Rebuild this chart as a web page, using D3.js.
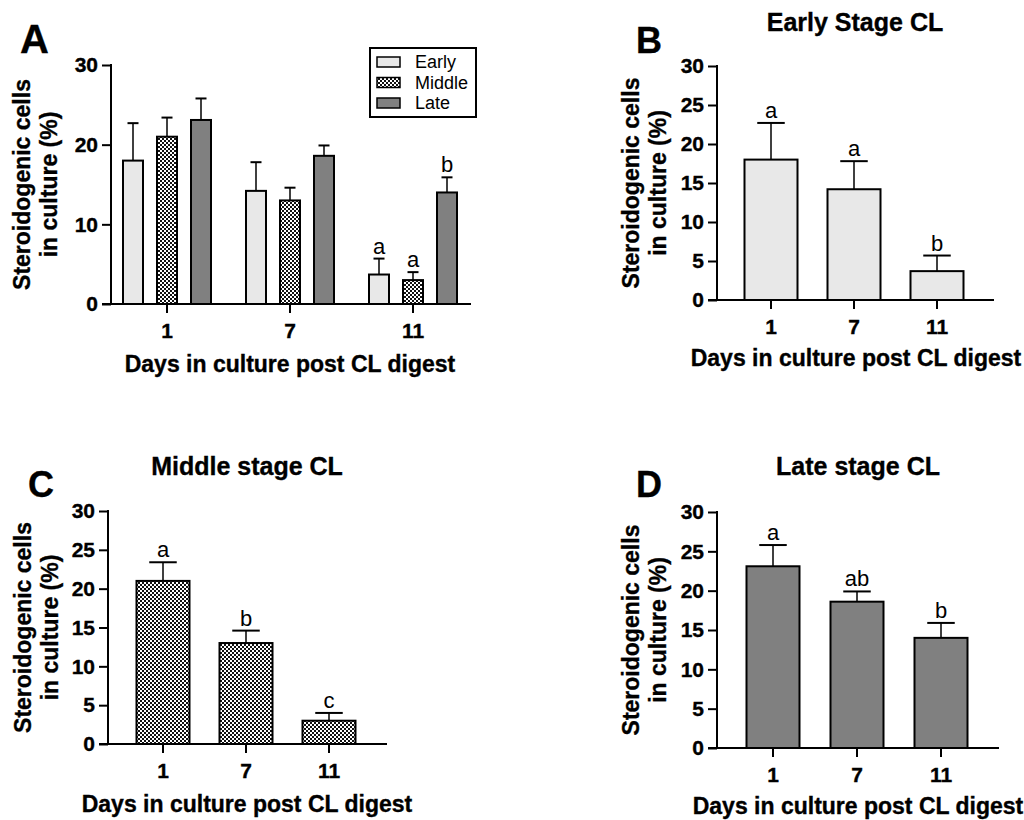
<!DOCTYPE html>
<html>
<head>
  <meta charset="utf-8">
  <title>Steroidogenic cells in culture</title>
  <style>
    body { margin: 0; background: #fff; }
    text { font-family: "Liberation Sans", Arial, sans-serif; }
  </style>
</head>
<body>
  <svg width="1024" height="820"></svg>
  <script src="https://d3js.org/d3.v7.min.js"></script>
  <script>

  // data (mean and SEM, %)
  var days = ["1", "7", "11"];
  var stages = ["Early", "Middle", "Late"];
  var earlyMean = [18.0, 14.2, 3.7];
  var earlyErr = [4.7, 3.6, 2.0];
  var middleMean = [21.0, 13.0, 3.0];
  var middleErr = [2.4, 1.6, 1.0];
  var lateMean = [23.1, 18.6, 14.0];
  var lateErr = [2.7, 1.3, 1.9];
  // significance letters
  var lettersA = [["", "", "a"], ["", "", "a"], ["", "", "b"]];
  var lettersB = ["a", "a", "b"];
  var lettersC = ["a", "b", "c"];
  var lettersD = ["a", "ab", "b"];
  var ticksA = [0, 10, 20, 30];
  var ticksBCD = [0, 5, 10, 15, 20, 25, 30];

  var svg = d3.select("svg");

  // patterns
  var defs = svg.append("defs");
  var pat = defs.append("pattern")
    .attr("id", "checker")
    .attr("patternUnits", "userSpaceOnUse")
    .attr("width", 4).attr("height", 4);
  pat.append("rect").attr("width", 4).attr("height", 4).attr("fill", "#fff");
  pat.append("rect").attr("width", 2).attr("height", 2).attr("fill", "#111");
  pat.append("rect").attr("x", 2).attr("y", 2).attr("width", 2).attr("height", 2).attr("fill", "#111");

  var fills = { Early: "#e8e8e8", Middle: "url(#checker)", Late: "#808080" };

  function seriesOf(stage) {
    if (stage == "Early") return { mean: earlyMean, err: earlyErr };
    if (stage == "Middle") return { mean: middleMean, err: middleErr };
    return { mean: lateMean, err: lateErr };
  }

  function boldText(sel, size) {
    sel.attr("font-size", size).attr("font-weight", "bold").attr("fill", "#000")
      .attr("stroke", "#000").attr("stroke-width", 0.35)
      .attr("font-family", "Liberation Sans, Arial, sans-serif");
  }

  // draws the axes frame of one panel, returns scales
  function panel(p) {
    var g = svg.append("g");
    var y = d3.scaleLinear().domain([0, 30]).range([p.y0, p.y1]);
    var x = d3.scaleBand().domain(days)
      .range([p.tick0 - p.step / 2, p.tick0 + p.step * 2.5]);

    // y axis
    var ya = g.append("g")
      .attr("transform", "translate(" + p.ax + ",0)")
      .call(d3.axisLeft(y).tickValues(p.ticks).tickSize(9).tickPadding(4));
    ya.select(".domain").remove();
    ya.selectAll(".tick line").attr("stroke", "#000").attr("stroke-width", 2);
    boldText(ya.selectAll(".tick text"), "21px");

    // x axis
    var xa = g.append("g")
      .attr("transform", "translate(0," + p.y0 + ")")
      .call(d3.axisBottom(x).tickSize(9).tickPadding(10));
    xa.select(".domain").remove();
    xa.selectAll(".tick line").attr("stroke", "#000").attr("stroke-width", 2);
    boldText(xa.selectAll(".tick text"), "21px");

    g.append("line")
      .attr("x1", p.ax).attr("x2", p.ax).attr("y1", p.y1 - 1).attr("y2", p.y0 + 1)
      .attr("stroke", "#000").attr("stroke-width", 2);
    g.append("line")
      .attr("x1", p.ax - 9).attr("x2", p.xEnd).attr("y1", p.y0).attr("y2", p.y0)
      .attr("stroke", "#000").attr("stroke-width", 2);

    // axis titles
    var cy = (p.y0 + p.y1) / 2;
    boldText(g.append("text")
      .attr("transform", "translate(" + p.yt1 + "," + cy + ") rotate(-90)")
      .attr("text-anchor", "middle")
      .text("Steroidogenic cells"), "23px");
    boldText(g.append("text")
      .attr("transform", "translate(" + (p.yt1 + 27) + "," + cy + ") rotate(-90)")
      .attr("text-anchor", "middle")
      .text("in culture (%)"), "23px");
    boldText(g.append("text")
      .attr("x", p.xtX).attr("y", p.y0 + p.xtDy)
      .attr("text-anchor", "middle")
      .text("Days in culture post CL digest"), "23px");

    if (p.title) {
      boldText(g.append("text")
        .attr("x", p.titleX).attr("y", p.titleY)
        .attr("text-anchor", "middle")
        .text(p.title), "25px");
    }
    boldText(g.append("text")
      .attr("x", p.lx).attr("y", p.ly)
      .text(p.letter), p.lsize);

    return { g: g, x: x, y: y };
  }

  function bars(g, x, y, stage, offset, w, letters) {
    var s = seriesOf(stage);
    var rows = days.map(function(d, i) {
      return { day: d, mean: s.mean[i], err: s.err[i], letter: letters[i] };
    });
    var cx = function(d) { return x(d.day) + x.bandwidth() / 2 + offset; };

    var eb = g.append("g");
    eb.selectAll(".stem").data(rows).enter().append("line")
      .attr("x1", cx).attr("x2", cx)
      .attr("y1", function(d) { return y(d.mean); })
      .attr("y2", function(d) { return y(d.mean + d.err); })
      .attr("stroke", "#000").attr("stroke-width", 1.5);
    eb.selectAll(".cap").data(rows).enter().append("line")
      .attr("x1", function(d) { return cx(d) - w / 4; })
      .attr("x2", function(d) { return cx(d) + w / 4; })
      .attr("y1", function(d) { return y(d.mean + d.err); })
      .attr("y2", function(d) { return y(d.mean + d.err); })
      .attr("stroke", "#000").attr("stroke-width", 2);

    g.selectAll(".bar-" + stage).data(rows).enter().append("rect")
      .attr("x", function(d) { return cx(d) - w / 2 + 1; })
      .attr("width", w - 2)
      .attr("y", function(d) { return y(d.mean); })
      .attr("height", function(d) { return y(0) - y(d.mean); })
      .attr("fill", fills[stage])
      .attr("stroke", "#000").attr("stroke-width", 2);

    g.selectAll(".lt-" + stage).data(rows).enter().append("text")
      .attr("x", cx)
      .attr("y", function(d) { return y(d.mean + d.err) - 5; })
      .attr("text-anchor", "middle")
      .attr("font-size", "22px")
      .text(function(d) { return d.letter; });
  }

  // Panel A
  var A = panel({ ax: 111, y0: 304, y1: 65, xEnd: 471, tick0: 167, step: 123, ticks: ticksA,
    yt1: 30, xtX: 290, xtDy: 68, letter: "A", lx: 20, ly: 53, lsize: "40px" });
  var sub = d3.scalePoint().domain(stages).range([-34, 34]);
  stages.forEach(function(st, k) {
    bars(A.g, A.x, A.y, st, sub(st), 22, lettersA[k]);
  });

  // legend
  var leg = A.g.append("g");
  leg.append("rect").attr("x", 370).attr("y", 48).attr("width", 106).attr("height", 69)
    .attr("fill", "#fff").attr("stroke", "#000").attr("stroke-width", 2);
  var ly = d3.scalePoint().domain(stages).range([62, 103]);
  stages.forEach(function(st) {
    leg.append("rect").attr("x", 377).attr("y", ly(st) - 5).attr("width", 23).attr("height", 10)
      .attr("fill", fills[st]).attr("stroke", "#000").attr("stroke-width", 1.5);
    leg.append("text").attr("x", 415).attr("y", ly(st)).attr("dy", "0.36em")
      .attr("font-size", "18px").text(st);
  });

  // Panel B
  var B = panel({ ax: 717, y0: 300, y1: 66, xEnd: 994, tick0: 771, step: 83, ticks: ticksBCD,
    yt1: 639, xtX: 856, xtDy: 66, title: "Early Stage CL", titleX: 855, titleY: 31,
    letter: "B", lx: 636, ly: 53, lsize: "36px" });
  bars(B.g, B.x, B.y, "Early", 0, 55, lettersB);

  // Panel C
  var C = panel({ ax: 108, y0: 744, y1: 511, xEnd: 387, tick0: 163, step: 83, ticks: ticksBCD,
    yt1: 31, xtX: 247, xtDy: 68, title: "Middle stage CL", titleX: 247, titleY: 475,
    letter: "C", lx: 28, ly: 497, lsize: "36px" });
  bars(C.g, C.x, C.y, "Middle", 0, 55, lettersC);

  // Panel D
  var D = panel({ ax: 717, y0: 748, y1: 512, xEnd: 999, tick0: 773, step: 84, ticks: ticksBCD,
    yt1: 639, xtX: 858, xtDy: 66, title: "Late stage CL", titleX: 858, titleY: 475,
    letter: "D", lx: 636, ly: 497, lsize: "36px" });
  bars(D.g, D.x, D.y, "Late", 0, 55, lettersD);

  </script>
</body>
</html>
